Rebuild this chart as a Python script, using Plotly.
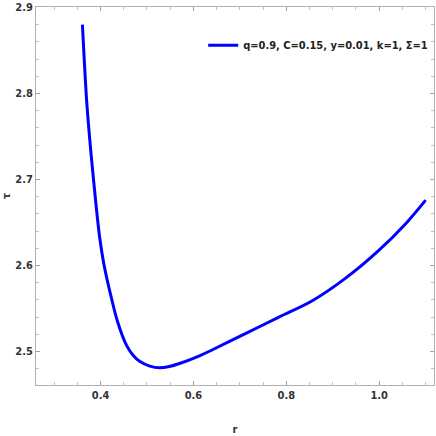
import plotly.graph_objects as go

# r and tau
r_vals = [0.361, 0.370, 0.377, 0.385, 0.398, 0.407, 0.423, 0.437, 0.456, 0.470, 0.484, 0.506,
          0.527, 0.548, 0.570, 0.613, 0.641, 0.713, 0.784, 0.856, 0.927, 0.998, 1.056, 1.100]
tau_vals = [2.880, 2.792, 2.745, 2.699, 2.633, 2.602, 2.563, 2.534, 2.507, 2.4955, 2.4885, 2.483,
            2.481, 2.4825, 2.486, 2.495, 2.502, 2.521, 2.540, 2.559, 2.585, 2.617, 2.648, 2.676]
legend_name = "q=0.9, C=0.15, y=0.01, k=1, Σ=1"

FONT = "Liberation Sans Narrow, Arial Narrow, DejaVu Sans Condensed, sans-serif"
TXT = dict(family=FONT, size=11, color="#333333", weight="bold")

fig = go.Figure()
fig.add_trace(go.Scatter(
    x=r_vals, y=tau_vals, mode="lines", name=legend_name,
    line=dict(color="#0000ff", width=3, shape="spline", smoothing=1.0),
))

axis_common = dict(
    showgrid=False, zeroline=False, showline=True, linecolor="#b0b0b0", linewidth=1,
    mirror="allticks", ticks="inside", ticklen=4, tickcolor="#a0a0a0", automargin=False,
    tickfont=TXT,
)

fig.update_xaxes(
    range=[0.261, 1.118], tickvals=[0.4, 0.6, 0.8, 1.0], ticktext=["0.4", "0.6", "0.8", "1.0"],
    minor=dict(dtick=0.05, tick0=0.0, ticks="inside", ticklen=3, tickcolor="#c0c0c0"),
    title=dict(text="r", font=TXT, standoff=24),
    **axis_common,
)
fig.update_yaxes(
    range=[2.461, 2.9005], tickvals=[2.5, 2.6, 2.7, 2.8, 2.9],
    minor=dict(dtick=0.02, tick0=2.5, ticks="inside", ticklen=3, tickcolor="#c0c0c0"),
    title=dict(text="τ", font=TXT, standoff=16),
    **axis_common,
)
fig.update_layout(
    width=436, height=436, template="plotly_white",
    paper_bgcolor="white", plot_bgcolor="white",
    margin=dict(l=36, r=2, t=7, b=51, autoexpand=False),
    font=TXT,
    showlegend=True,
    legend=dict(x=0.42, y=0.899, xanchor="left", yanchor="middle", bgcolor="rgba(0,0,0,0)",
                font=dict(family=FONT, size=11, color="#222222", weight="bold")),
)
fig.write_html("out.html", config={"displayModeBar": False},
               post_script="document.body.style.margin='0';")
